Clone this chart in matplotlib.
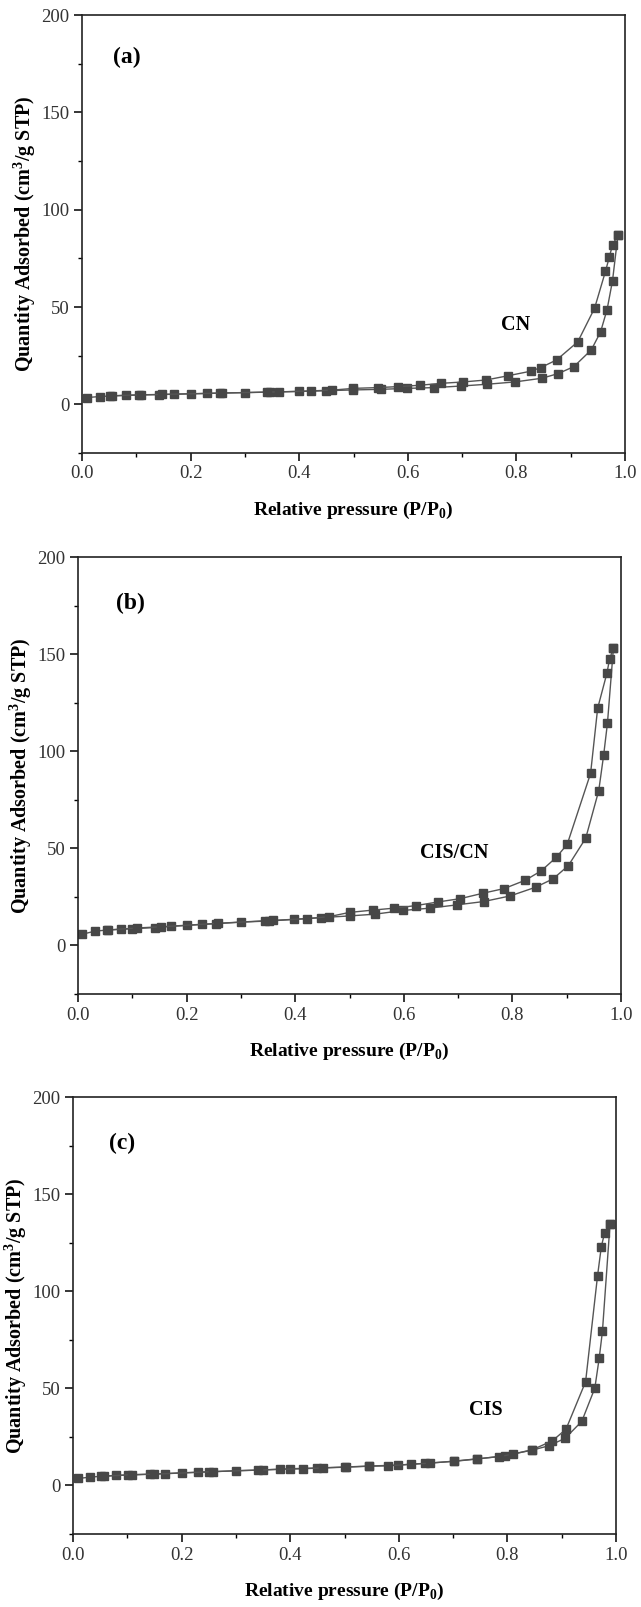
import numpy as np
import matplotlib
matplotlib.use('Agg')
import matplotlib.pyplot as plt
from matplotlib.ticker import MultipleLocator

plt.rcParams['font.family'] = ['Liberation Serif', 'DejaVu Serif']
plt.rcParams['mathtext.fontset'] = 'custom'
plt.rcParams['mathtext.rm'] = 'Liberation Serif'
plt.rcParams['mathtext.bf'] = 'Liberation Serif:bold'

# (a) CN
cn_ads_p = [0.009, 0.033, 0.052, 0.081, 0.105, 0.142, 0.17, 0.2, 0.23, 0.254, 0.3, 0.346, 0.4, 0.45,
            0.5, 0.55, 0.599, 0.649, 0.698, 0.745, 0.797, 0.847, 0.877, 0.906, 0.938, 0.955, 0.967,
            0.977, 0.987]
cn_ads_q = [3.5, 4.0, 4.3, 4.6, 4.8, 5.0, 5.2, 5.4, 5.6, 5.8, 6.0, 6.3, 6.6, 7.0,
            7.4, 7.7, 8.2, 8.6, 9.4, 10.3, 11.5, 13.4, 15.8, 19.4, 28.0, 37.2, 48.7,
            63.5, 87.0]
cn_des_p = [0.987, 0.977, 0.971, 0.964, 0.944, 0.913, 0.874, 0.845, 0.826, 0.785, 0.744, 0.702,
            0.662, 0.622, 0.582, 0.545, 0.5, 0.461, 0.421, 0.363, 0.34, 0.258, 0.148, 0.109, 0.056]
cn_des_q = [87.0, 81.9, 75.5, 68.3, 49.4, 32.1, 22.8, 18.9, 17.0, 14.7, 12.5, 11.5,
            10.8, 9.8, 9.1, 8.6, 8.2, 7.3, 6.9, 6.4, 6.3, 5.8, 5.1, 4.9, 4.4]

# (b) CIS/CN
ciscn_ads_p = [0.008, 0.032, 0.053, 0.079, 0.1, 0.141, 0.171, 0.2, 0.229, 0.254, 0.3, 0.352, 0.398,
               0.447, 0.5, 0.547, 0.598, 0.648, 0.698, 0.747, 0.796, 0.843, 0.875, 0.903, 0.935,
               0.959, 0.968, 0.975, 0.986]
ciscn_ads_q = [5.8, 7.4, 7.9, 8.3, 8.6, 9.2, 9.8, 10.3, 10.8, 11.2, 12.0, 12.6, 13.4,
               14.3, 15.2, 16.1, 18.0, 19.2, 20.9, 22.6, 25.5, 30.0, 34.3, 41.1, 55.2,
               79.7, 97.9, 114.3, 153.0]
ciscn_des_p = [0.986, 0.979, 0.974, 0.957, 0.944, 0.901, 0.881, 0.853, 0.824, 0.785, 0.746, 0.704,
               0.663, 0.622, 0.582, 0.543, 0.5, 0.462, 0.421, 0.36, 0.344, 0.258, 0.152, 0.109, 0.056]
ciscn_des_q = [153.0, 147.5, 140.1, 122.1, 88.6, 52.1, 45.4, 38.4, 33.6, 29.3, 26.9, 24.1,
               22.4, 20.5, 19.2, 18.2, 17.0, 14.8, 13.8, 12.9, 12.7, 11.4, 9.6, 9.0, 8.0]

# (c) CIS
cis_ads_p = [0.01, 0.032, 0.051, 0.079, 0.102, 0.142, 0.17, 0.2, 0.23, 0.251, 0.3, 0.349, 0.4,
             0.449, 0.502, 0.546, 0.599, 0.649, 0.701, 0.744, 0.795, 0.846, 0.876, 0.906, 0.937,
             0.961, 0.969, 0.975, 0.989]
cis_ads_q = [3.6, 4.3, 4.7, 5.2, 5.3, 5.8, 6.1, 6.5, 6.8, 7.0, 7.6, 8.0, 8.6,
             9.0, 9.5, 10.0, 10.5, 11.4, 12.4, 13.6, 15.3, 18.2, 20.4, 24.2, 33.0,
             50.1, 65.4, 79.3, 134.7]
cis_des_p = [0.989, 0.979, 0.973, 0.966, 0.944, 0.908, 0.883, 0.846, 0.811, 0.784, 0.744, 0.701,
             0.658, 0.622, 0.581, 0.546, 0.5, 0.46, 0.423, 0.381, 0.341, 0.257, 0.149, 0.108, 0.057]
cis_des_q = [134.7, 130.0, 123.0, 107.9, 53.4, 29.0, 23.0, 18.4, 16.2, 14.8, 13.7, 12.5,
             11.5, 10.9, 10.1, 9.9, 9.4, 9.0, 8.6, 8.3, 7.9, 7.1, 5.8, 5.6, 4.7]

panels = [
    ('(a)', 'CN', cn_ads_p, cn_ads_q, cn_des_p, cn_des_q, (0.057, 178), (0.772, 41)),
    ('(b)', 'CIS/CN', ciscn_ads_p, ciscn_ads_q, ciscn_des_p, ciscn_des_q, (0.07, 176), (0.63, 47.5)),
    ('(c)', 'CIS', cis_ads_p, cis_ads_q, cis_des_p, cis_des_q, (0.067, 176), (0.73, 39)),
]

# axes boxes in pixels: left, right, top, bottom
boxes = [(82, 625, 15, 453), (78, 621, 557, 994), (73, 616, 1097, 1534)]

W, H = 641, 1607
fig = plt.figure(figsize=(W / 100, H / 100), dpi=100)

line_c = '#555555'
mark_c = '#474747'

for (tag, name, ap, aq, dp, dq, tag_xy, name_xy), (l, r, t, b) in zip(panels, boxes):
    ax = fig.add_axes([l / W, 1 - b / H, (r - l) / W, (b - t) / H])
    ax.plot(ap, aq, '-s', color=line_c, lw=1.0, ms=5.2, mfc=mark_c, mec=mark_c)
    ax.plot(dp, dq, '-s', color=line_c, lw=1.0, ms=5.2, mfc=mark_c, mec=mark_c)

    ax.set_xlim(0, 1.0)
    ax.set_ylim(-25, 200)
    ax.xaxis.set_minor_locator(MultipleLocator(0.1))
    ax.yaxis.set_major_locator(MultipleLocator(50))
    ax.yaxis.set_minor_locator(MultipleLocator(25))
    ax.set_xticks([0, 0.2, 0.4, 0.6, 0.8, 1.0])
    ax.set_xticklabels(['0.0', '0.2', '0.4', '0.6', '0.8', '1.0'])
    ax.tick_params(which='major', direction='out', length=6, width=1.1, labelsize=13.5,
                   labelcolor='#333333', pad=3)
    ax.tick_params(which='minor', direction='out', length=3, width=1.0)
    for sp in ax.spines.values():
        sp.set_linewidth(1.2)
        sp.set_color('#222222')

    ax.set_xlabel(r'Relative pressure (P/P$_\mathbf{0}$)', fontsize=14, fontweight='bold')
    ax.xaxis.set_label_coords(0.5, -0.132)
    ax.xaxis.label.set_va('center')
    ax.set_ylabel(r'Quantity Adsorbed (cm$^\mathbf{3}$/g STP)', fontsize=14.5, fontweight='bold')
    ax.yaxis.set_label_coords(-0.105, 0.5)
    ax.yaxis.label.set_va('center')

    ax.text(tag_xy[0], tag_xy[1], tag, fontsize=17, fontweight='bold', va='center', ha='left')
    ax.text(name_xy[0], name_xy[1], name, fontsize=14.5, fontweight='bold', va='center', ha='left')

fig.savefig('out.png', dpi=100)
